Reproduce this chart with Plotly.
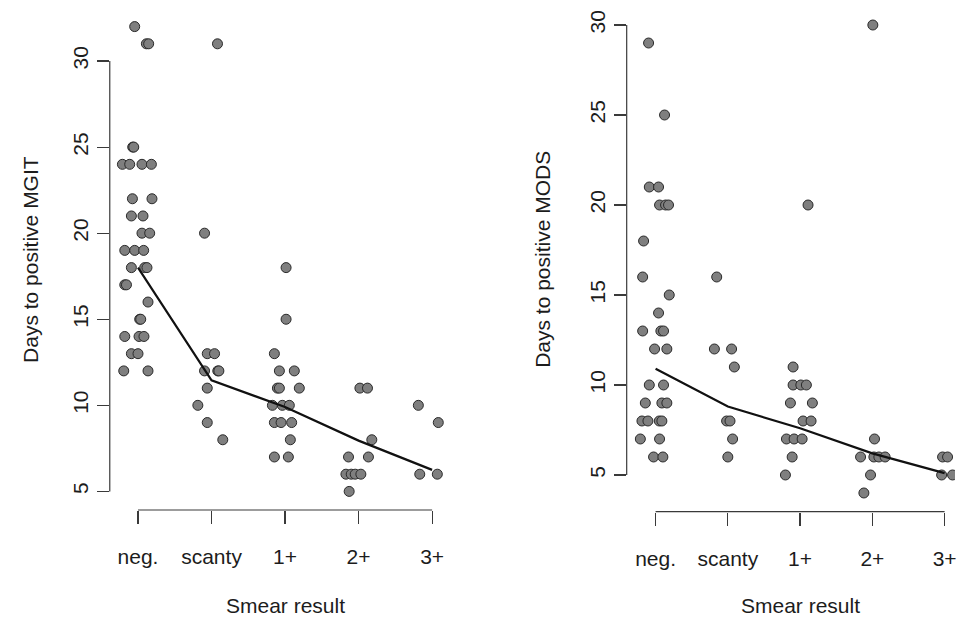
import plotly.graph_objects as go

# ---------------- data ----------------
categories = ["neg.", "scanty", "1+", "2+", "3+"]
y_ticks = [5, 10, 15, 20, 25, 30]

# MGIT (left panel): category index, days, horizontal jitter (category units)
mgit_cat = [0]*33 + [1]*11 + [2]*17 + [3]*10 + [4]*4
mgit_days = [
    32, 31, 31, 25, 25, 24, 24, 24, 24, 22, 22, 21, 21, 20, 20, 19, 19, 19,
    18, 18, 18, 17, 17, 16, 15, 15, 14, 14, 14, 13, 13, 12, 12,
    31, 20, 13, 13, 12, 12, 12, 11, 10, 9, 8,
    18, 15, 13, 12, 12, 11, 11, 11, 10, 10, 10, 9, 9, 9, 8, 7, 7,
    11, 11, 8, 7, 7, 6, 6, 6, 6, 5,
    10, 9, 6, 6,
]
mgit_jitter = [
    -0.045, 0.114, 0.145, -0.072, -0.058, -0.212, -0.113, 0.054, 0.182, -0.076, 0.190,
    -0.090, 0.068, 0.054, 0.159, -0.180, -0.045, 0.077, -0.090, 0.091, 0.122,
    -0.180, -0.157, 0.136, 0.023, 0.037, -0.180, 0.014, 0.081, -0.090, 0.000,
    -0.194, 0.136,
    0.081, -0.095, -0.058, 0.041, -0.095, 0.085, 0.100, -0.058, -0.186, -0.058, 0.153,
    0.014, 0.014, -0.145, -0.077, 0.126, -0.104, -0.077, 0.194, -0.172, -0.037, 0.058,
    -0.145, -0.054, 0.090, 0.072, -0.145, 0.045,
    0.018, 0.121, 0.180, -0.137, 0.134, -0.172, -0.100, -0.046, 0.031, -0.128,
    -0.187, 0.084, -0.168, 0.071,
]
mgit_trend = [18.0, 11.45, 9.9, 7.95, 6.25]

# MODS (right panel)
mods_cat = [0]*29 + [1]*8 + [2]*14 + [3]*8 + [4]*4
mods_days = [
    29, 25, 21, 21, 20, 20, 20, 18, 16, 15, 14, 13, 13, 13, 12, 12, 10, 10,
    9, 9, 9, 8, 8, 8, 8, 7, 7, 6, 6,
    16, 12, 12, 11, 8, 8, 7, 6,
    20, 11, 10, 10, 10, 9, 9, 8, 8, 7, 7, 7, 6, 5,
    30, 7, 6, 6, 6, 6, 5, 4,
    6, 6, 5, 5,
]
mods_jitter = [
    -0.097, 0.124, -0.087, 0.041, 0.055, 0.138, 0.179, -0.166, -0.179, 0.189,
    0.041, -0.179, 0.073, 0.110, -0.014, 0.156, -0.087, 0.110, -0.142, 0.087,
    0.156, -0.189, -0.106, 0.051, 0.087, -0.211, 0.055, -0.028, 0.101,
    -0.154, -0.186, 0.052, 0.090, -0.017, 0.030, 0.066, 0.000,
    0.110, -0.097, -0.097, 0.010, 0.087, -0.134, 0.170, 0.041, 0.152, -0.189,
    -0.083, 0.028, -0.110, -0.203,
    0.007, 0.030, -0.163, 0.021, 0.090, 0.177, -0.025, -0.117,
    -0.028, 0.041, -0.041, 0.110,
]
mods_trend = [10.9, 8.8, 7.6, 6.2, 5.1]

# ---------------- figure ----------------
W, H = 957, 618
FONT = "Liberation Sans, Arial, sans-serif"
TXT = "#1c1c1c"
AX = "#3a3a3a"
FS = 21

fig = go.Figure()

marker = dict(size=10, color="#7f7f7f", line=dict(color="#2a2a2a", width=1))

fig.add_trace(go.Scatter(
    x=[c + j for c, j in zip(mgit_cat, mgit_jitter)], y=mgit_days,
    mode="markers", marker=marker, xaxis="x", yaxis="y", showlegend=False))
fig.add_trace(go.Scatter(
    x=list(range(len(categories))), y=mgit_trend, mode="lines",
    line=dict(color="#111111", width=2.2), xaxis="x", yaxis="y", showlegend=False))
fig.add_trace(go.Scatter(
    x=[c + j for c, j in zip(mods_cat, mods_jitter)], y=mods_days,
    mode="markers", marker=marker, xaxis="x2", yaxis="y2", showlegend=False))
fig.add_trace(go.Scatter(
    x=list(range(len(categories))), y=mods_trend, mode="lines",
    line=dict(color="#111111", width=2.2), xaxis="x2", yaxis="y2", showlegend=False))

def px_x(p):
    return min(1.0, p / W)

def px_y(p):
    return 1 - p / H

common_x = dict(
    tickmode="array", tickvals=list(range(len(categories))), ticktext=categories,
    ticks="outside", ticklen=13, tickwidth=1.2, tickcolor=AX,
    showline=False, showgrid=False, zeroline=False,
    tickfont=dict(family=FONT, size=FS, color=TXT), ticklabelstandoff=15,
    ticklabeloverflow="allow",
)
common_y = dict(
    tickmode="array", tickvals=y_ticks,
    ticks="outside", ticklen=12, tickwidth=1.2, tickcolor=AX,
    showline=False, showgrid=False, zeroline=False, tickangle=-90,
    tickfont=dict(family=FONT, size=FS, color=TXT), ticklabelstandoff=0,
    ticklabeloverflow="allow",
)

fig.update_layout(
    width=W, height=H,
    margin=dict(l=0, r=0, t=0, b=0),
    paper_bgcolor="white", plot_bgcolor="white",
    hovermode=False,
    xaxis=dict(domain=[px_x(110), px_x(461.3)], range=[-0.384, 4.384], anchor="y", **common_x),
    yaxis=dict(domain=[px_y(510), px_y(8)], range=[3.92, 33.08], anchor="x", **common_y),
    xaxis2=dict(domain=[px_x(628), 1.0], range=[-0.40, 4.144], anchor="y2", **common_x),
    yaxis2=dict(domain=[px_y(511.7), px_y(8)], range=[2.96, 30.945], anchor="x2", **common_y),
)

# R-style axis lines spanning only the first..last tick
shapes = []
for xa, ya in (("x", "y"), ("x2", "y2")):
    shapes.append(dict(type="line", xref=xa, yref=ya + " domain", x0=0, x1=len(categories) - 1,
                       y0=0, y1=0, line=dict(color=AX, width=1.2)))
    shapes.append(dict(type="line", xref=xa + " domain", yref=ya, x0=0, x1=0,
                       y0=y_ticks[0], y1=y_ticks[-1], line=dict(color=AX, width=1.2)))
fig.update_layout(shapes=shapes)

title_font = dict(family=FONT, size=FS, color=TXT)
annotations = [
    dict(text="Smear result", xref="x", yref="paper", x=2, y=px_y(605), showarrow=False,
         xanchor="center", yanchor="middle", font=title_font),
    dict(text="Smear result", xref="x2", yref="paper", x=2, y=px_y(605), showarrow=False,
         xanchor="center", yanchor="middle", font=title_font),
    dict(text="Days to positive MGIT", xref="paper", yref="paper", x=px_x(30), y=px_y(259),
         textangle=-90, showarrow=False, xanchor="center", yanchor="middle", font=title_font),
    dict(text="Days to positive MODS", xref="paper", yref="paper", x=px_x(543), y=px_y(259),
         textangle=-90, showarrow=False, xanchor="center", yanchor="middle", font=title_font),
]
fig.update_layout(annotations=annotations)

fig.write_html(
    "out.html",
    config={"displayModeBar": False, "staticPlot": True},
    post_script="document.body.style.margin='0';document.body.style.overflow='hidden';",
)
